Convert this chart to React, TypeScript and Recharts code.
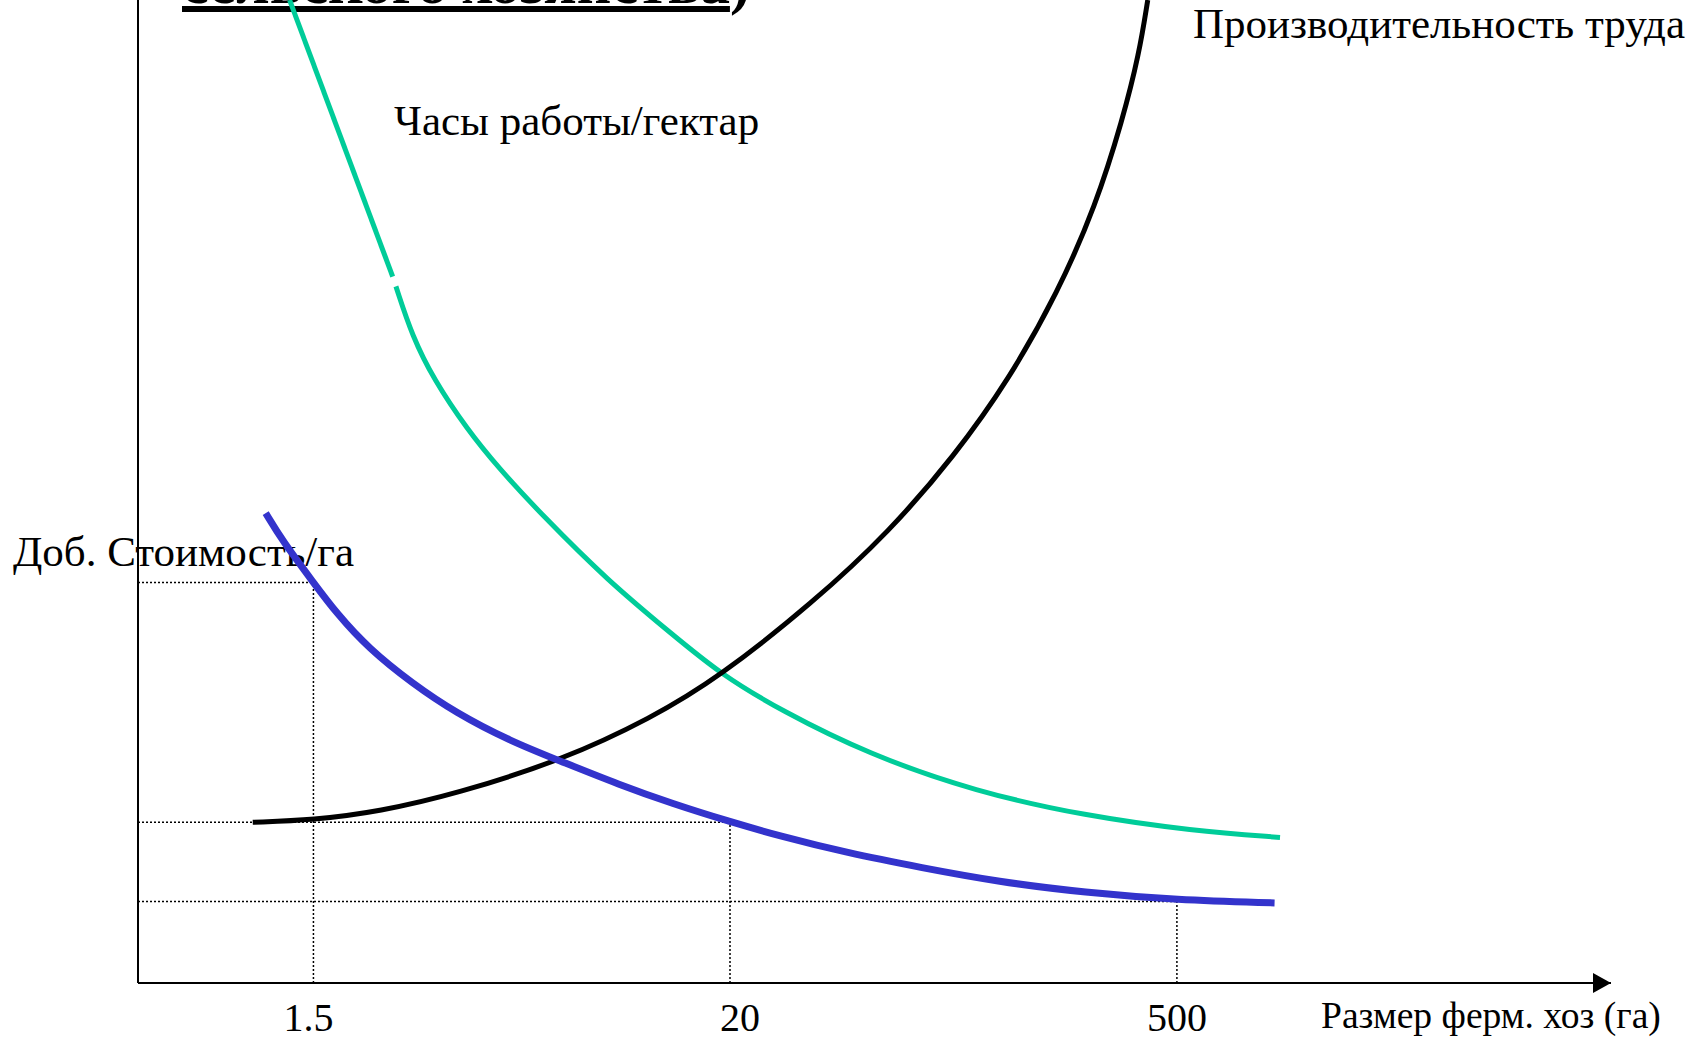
import React from 'react';
import { ComposedChart, Line, XAxis, YAxis, ReferenceLine, ReferenceDot } from 'recharts';

// Farm size positions on the (schematic) x axis and their labels
const tickValues = [11.91, 40.19, 70.53];
const tickLabels = ['1.5', '20', '500'];
// Levels of the dotted guide lines (value added per ha at each farm size)
const guideLevels = [40.74, 16.35, 8.29];

// Доб. стоимость / га (blue)
const addedValuePerHa = [
  { x: 8.67, y: 47.8 }, { x: 9.78, y: 45.04 }, { x: 11.91, y: 40.74 }, { x: 13.46, y: 37.65 },
  { x: 15.67, y: 34.01 }, { x: 18.62, y: 30.48 }, { x: 21.56, y: 27.5 }, { x: 25.24, y: 24.63 },
  { x: 28.93, y: 22.42 }, { x: 32.61, y: 20.21 }, { x: 36.29, y: 18.23 }, { x: 40.19, y: 16.4 },
  { x: 43.66, y: 14.92 }, { x: 48.07, y: 13.26 }, { x: 53.23, y: 11.72 }, { x: 58.38, y: 10.3 },
  { x: 64.28, y: 9.2 }, { x: 70.53, y: 8.45 }, { x: 77.16, y: 8.15 },
];

// Часы работы / гектар (green) – upper straight piece and lower curve
const hoursPerHaTop = [{ x: 10.29, y: 100 }, { x: 17.29, y: 71.86 }];
const hoursPerHa = [
  { x: 17.51, y: 70.87 }, { x: 18.62, y: 65.79 }, { x: 20.09, y: 61.38 }, { x: 22.3, y: 56.41 },
  { x: 24.51, y: 52.33 }, { x: 27.45, y: 47.58 }, { x: 31.87, y: 40.96 }, { x: 36.29, y: 35.44 },
  { x: 39.61, y: 31.36 }, { x: 43.66, y: 27.72 }, { x: 49.55, y: 23.3 }, { x: 56.91, y: 19.44 },
  { x: 64.28, y: 17.01 }, { x: 71.64, y: 15.47 }, { x: 77.53, y: 14.81 },
];

// Производительность труда (black)
const laborProductivity = [
  { x: 7.79, y: 16.35 }, { x: 11.91, y: 16.57 }, { x: 16.41, y: 17.45 }, { x: 21.56, y: 19.22 },
  { x: 28.93, y: 22.75 }, { x: 34.82, y: 26.94 }, { x: 39.38, y: 31.03 }, { x: 45.87, y: 38.75 },
  { x: 51.02, y: 45.93 }, { x: 55.44, y: 53.65 }, { x: 59.12, y: 61.38 }, { x: 62.43, y: 70.2 },
  { x: 65.01, y: 79.03 }, { x: 66.85, y: 87.86 }, { x: 67.96, y: 94.48 }, { x: 68.55, y: 100 },
];

const FONT = '"Liberation Serif", "Times New Roman", serif';
const labelShift: Record<string, number> = { '1.5': -5, '20': 10, '500': 0 };

const Tick = (props: any) => {
  const { x, y, payload } = props;
  const i = tickValues.indexOf(payload.value);
  const label = i >= 0 ? tickLabels[i] : '';
  return (
    <text x={x + (labelShift[label] || 0)} y={y + 46} textAnchor="middle" fontFamily={FONT} fontSize={40} fill="#000">
      {label}
    </text>
  );
};

const Arrow = (props: any) => {
  const { cx, cy } = props;
  return <path d={`M${cx - 18},${cy - 10} L${cx},${cy} L${cx - 18},${cy + 10} Z`} fill="#000" />;
};

export default function App() {
  return (
    <div style={{ position: 'absolute', left: 0, top: 0, width: 1701, height: 1041, background: '#fff' }}>
      <svg width={1701} height={1041} style={{ position: 'absolute', left: 0, top: 0 }}>
        <text x={182} y={3} fontFamily={FONT} fontSize={60} fontWeight="bold" fill="#000">
          <tspan textDecoration="underline" style={{ textDecoration: 'underline' }}>сельского хозяйства</tspan>)
        </text>
        <text x={394} y={135} fontFamily={FONT} fontSize={43} fill="#000">Часы работы/гектар</text>
        <text x={1193} y={38} fontFamily={FONT} fontSize={43} fill="#000">Производительность труда</text>
        <text x={13} y={566} fontFamily={FONT} fontSize={43} fill="#000">Доб. Стоимость/га</text>
        <text x={1321} y={1028} fontFamily={FONT} fontSize={37.6} fill="#000">Размер ферм. хоз (га)</text>
      </svg>
      <div style={{ position: 'absolute', left: 0, top: 0 }}>
        <ComposedChart width={1701} height={1041} margin={{ top: 0, right: 90, bottom: 0, left: 78 }}>
          <XAxis
            type="number"
            dataKey="x"
            domain={[0, 100]}
            ticks={tickValues}
            tick={<Tick />}
            tickLine={false}
            tickSize={0}
            height={58}
            axisLine={{ stroke: '#000', strokeWidth: 2 }}
            allowDataOverflow
          />
          <YAxis
            type="number"
            dataKey="y"
            domain={[0, 100]}
            width={60}
            tick={false}
            tickLine={false}
            axisLine={{ stroke: '#000', strokeWidth: 2 }}
            allowDataOverflow
          />
          {tickValues.map((tv, i) => (
            <ReferenceLine
              key={`h${i}`}
              segment={[{ x: 0, y: guideLevels[i] }, { x: tv, y: guideLevels[i] }]}
              stroke="#000"
              strokeWidth={1.5}
              strokeDasharray="2 2"
            />
          ))}
          {tickValues.map((tv, i) => (
            <ReferenceLine
              key={`v${i}`}
              segment={[{ x: tv, y: 0 }, { x: tv, y: guideLevels[i] }]}
              stroke="#000"
              strokeWidth={1.5}
              strokeDasharray="2 2"
            />
          ))}
          <Line data={hoursPerHaTop} dataKey="y" type="linear" stroke="#00CC99" strokeWidth={5} dot={false} activeDot={false} isAnimationActive={false} />
          <Line data={hoursPerHa} dataKey="y" type="basis" stroke="#00CC99" strokeWidth={5} dot={false} activeDot={false} isAnimationActive={false} />
          <Line data={laborProductivity} dataKey="y" type="basis" stroke="#000" strokeWidth={5} dot={false} activeDot={false} isAnimationActive={false} />
          <Line data={addedValuePerHa} dataKey="y" type="basis" stroke="#3333CC" strokeWidth={7} dot={false} activeDot={false} isAnimationActive={false} />
          <ReferenceDot x={100} y={0} r={0} shape={<Arrow />} />
        </ComposedChart>
      </div>
    </div>
  );
}
